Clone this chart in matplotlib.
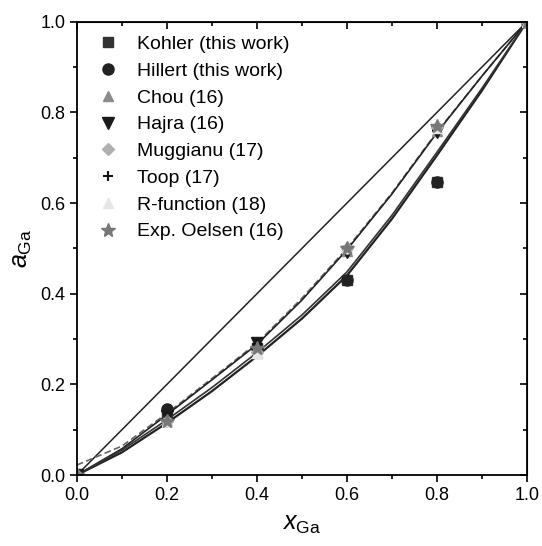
import matplotlib
matplotlib.use("Agg")
import matplotlib.pyplot as plt
from matplotlib.ticker import MultipleLocator

plt.rcParams["font.family"] = ["Liberation Sans", "DejaVu Sans"]
plt.rcParams["mathtext.fontset"] = "custom"
plt.rcParams["mathtext.rm"] = "Liberation Sans"
plt.rcParams["mathtext.it"] = "Liberation Sans:italic"

# calculated activity curves of Ga
x_line = [0.0, 0.1, 0.2, 0.3, 0.4, 0.5, 0.6, 0.7, 0.8, 0.9, 1.0]
ideal = [0.0, 0.1, 0.2, 0.3, 0.4, 0.5, 0.6, 0.7, 0.8, 0.9, 1.0]
curve_mid = [0.0, 0.058, 0.133, 0.21, 0.288, 0.386, 0.497, 0.62, 0.755, 0.88, 1.0]
curve_dash = [0.022, 0.064, 0.136, 0.213, 0.291, 0.39, 0.5, 0.622, 0.757, 0.88, 1.0]
curve_low1 = [0.0, 0.05, 0.115, 0.185, 0.262, 0.345, 0.44, 0.565, 0.705, 0.848, 1.0]
curve_low2 = [0.0, 0.055, 0.122, 0.193, 0.27, 0.353, 0.448, 0.573, 0.712, 0.853, 1.0]

# model predictions and experiment
x_pts = [0.0, 0.2, 0.4, 0.6, 0.8, 1.0]
kohler = [0.0, 0.14, 0.28, 0.43, 0.647, 1.0]
hillert = [0.0, 0.146, 0.28, 0.43, 0.647, 1.0]
chou = [0.0, 0.12, 0.27, 0.495, 0.76, 1.0]
hajra = [0.0, 0.13, 0.292, 0.492, 0.758, 1.0]
muggianu = [0.0, 0.12, 0.272, 0.50, 0.768, 1.0]
toop = [0.0, 0.12, 0.29, 0.50, 0.76, 1.0]
rfunc = [0.0, 0.12, 0.27, 0.50, 0.765, 1.0]
oelsen = [0.0, 0.12, 0.28, 0.50, 0.77, 1.0]

fig = plt.figure(figsize=(5.42, 5.46), dpi=100)
ax = fig.add_axes([0.142, 0.130, 0.830, 0.830])

ax.plot(x_line, ideal, color="#222222", lw=1.1)
ax.plot(x_line, curve_dash, color="#666666", lw=1.2, ls=(0, (4, 2)))
ax.plot(x_line, curve_mid, color="#222222", lw=1.2)
ax.plot(x_line, curve_low1, color="#222222", lw=1.6)
ax.plot(x_line, curve_low2, color="#333333", lw=1.2)

ms = 7
ax.plot(x_pts, kohler, ls="none", marker="s", color="#333333", ms=ms, label="Kohler (this work)")
ax.plot(x_pts, hillert, ls="none", marker="o", color="#222222", ms=ms + 1, label="Hillert (this work)")
ax.plot(x_pts, chou, ls="none", marker="^", color="#8a8a8a", ms=ms, label="Chou (16)")
ax.plot(x_pts, hajra, ls="none", marker="v", color="#1a1a1a", ms=ms + 1, label="Hajra (16)")
ax.plot(x_pts, muggianu, ls="none", marker="D", color="#b0b0b0", ms=ms - 1, label="Muggianu (17)")
ax.plot(x_pts, toop, ls="none", marker="+", color="#111111", ms=ms, mew=1.5, label="Toop (17)")
ax.plot(x_pts, rfunc, ls="none", marker="^", color="#e6e6e6", ms=ms, label="R-function (18)")
ax.plot(x_pts, oelsen, ls="none", marker="*", color="#777777", ms=ms + 3, label="Exp. Oelsen (16)")

ax.set_xlim(0, 1)
ax.set_ylim(0, 1)
ax.xaxis.set_major_locator(MultipleLocator(0.2))
ax.yaxis.set_major_locator(MultipleLocator(0.2))
ax.xaxis.set_minor_locator(MultipleLocator(0.1))
ax.yaxis.set_minor_locator(MultipleLocator(0.1))
ax.tick_params(which="both", direction="out", top=False, right=False, width=1.2, labelsize=13)
ax.tick_params(which="major", length=5)
ax.tick_params(which="minor", length=3)
for spine in ax.spines.values():
    spine.set_linewidth(1.3)

# mirrored inward ticks on top and right
sec_x = ax.secondary_xaxis("top")
sec_y = ax.secondary_yaxis("right")
for s in (sec_x, sec_y):
    s.set_ticks([0.0, 0.2, 0.4, 0.6, 0.8, 1.0])
    s.set_ticks([0.1, 0.3, 0.5, 0.7, 0.9], minor=True)
    s.tick_params(which="both", direction="in", width=1.2,
                  labeltop=False, labelright=False)
    s.tick_params(which="major", length=5)
    s.tick_params(which="minor", length=3)

ax.set_xlabel(r"$x_{\rm Ga}$", fontsize=18, labelpad=6)
ax.set_ylabel(r"$a_{\rm Ga}$", fontsize=18, labelpad=4)

leg = ax.legend(loc="upper left", bbox_to_anchor=(0.013, 1.0), frameon=False,
                fontsize=14, handlelength=1.2, handletextpad=0.9,
                labelspacing=0.47, borderpad=0.2, numpoints=1)

fig.savefig("out.png", dpi=100)
